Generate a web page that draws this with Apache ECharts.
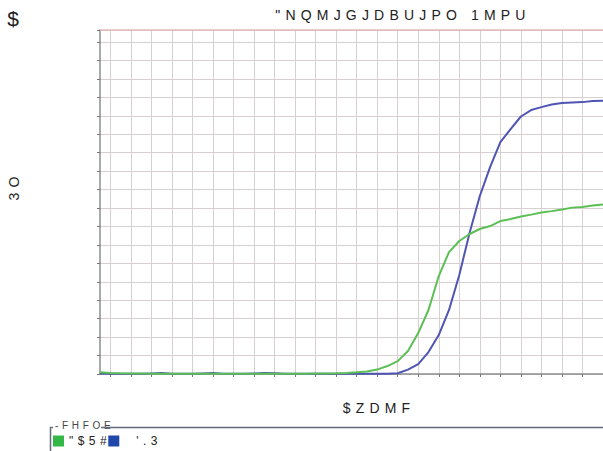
<!DOCTYPE html>
<html>
<head>
<meta charset="utf-8">
<script src="https://cdn.jsdelivr.net/npm/echarts@6/dist/echarts.min.js"></script>
<style>
html, body { margin: 0; padding: 0; background: #fff; }
#main { width: 603px; height: 451px; }
#main text { letter-spacing: 0.37em; }
</style>
</head>
<body>
<div id="main"></div>
<script>
var cycles = [1, 2, 3, 4, 5, 6, 7, 8, 9, 10, 11, 12, 13, 14, 15, 16, 17, 18, 19, 20,
	21, 22, 23, 24, 25, 26, 27, 28, 29, 30, 31, 32, 33, 34, 35, 36, 37, 38, 39, 40,
	41, 42, 43, 44, 45, 46, 47, 48, 49, 50];

// ACTB (green)
var actbRn = [0.009, 0.006, 0.004, 0.003, 0.003, 0.002, 0.002, 0.002, 0.002, 0.002,
	0.002, 0.002, 0.002, 0.002, 0.002, 0.002, 0.002, 0.002, 0.002, 0.002,
	0.002, 0.003, 0.003, 0.004, 0.006, 0.009, 0.014, 0.024, 0.043, 0.070,
	0.125, 0.222, 0.347, 0.531, 0.661, 0.721, 0.759, 0.786, 0.802, 0.829,
	0.840, 0.854, 0.864, 0.875, 0.883, 0.892, 0.902, 0.905, 0.913, 0.919];

// FMR (blue)
var fmrRn = [0.003, 0.002, 0.001, 0.001, 0.001, 0.003, 0.005, 0.002, 0.001, 0.001,
	0.003, 0.005, 0.002, 0.001, 0.001, 0.003, 0.005, 0.004, 0.001, 0.001,
	0.001, 0.001, 0.001, 0.001, 0.001, 0.001, 0.001, 0.001, 0.002, 0.004,
	0.024, 0.054, 0.119, 0.211, 0.347, 0.537, 0.764, 0.965, 1.122, 1.257,
	1.328, 1.396, 1.431, 1.447, 1.461, 1.469, 1.472, 1.474, 1.480, 1.482];

var seriesNames = ['"$5#', "'.3"];

function oddOnly(index) {
	return index % 2 === 1;
}

var myChart = echarts.init(document.getElementById('main'), null, { renderer : 'svg' });

myChart.setOption({
	animation : false,
	textStyle : {
		fontFamily : 'Liberation Sans'
	},
	graphic : [ {
		type : 'text',
		x : 17,
		y : 18,
		style : {
			text : '$',
			font : '21px "Liberation Sans"',
			fill : '#222',
			textAlign : 'center',
			textVerticalAlign : 'middle'
		}
	}, {
		type : 'text',
		x : 403,
		y : 15,
		style : {
			text : '"NQMJGJDBUJPO 1MPU',
			font : '14px "Liberation Sans"',
			fill : '#222',
			textAlign : 'center',
			textVerticalAlign : 'middle'
		}
	}, {
		type : 'text',
		x : 14,
		y : 186,
		rotation : Math.PI / 2,
		style : {
			text : '3O',
			font : '14px "Liberation Sans"',
			fill : '#222',
			textAlign : 'center',
			textVerticalAlign : 'middle'
		}
	}, {
		type : 'text',
		x : 379,
		y : 408,
		style : {
			text : '$ZDMF',
			font : '14px "Liberation Sans"',
			fill : '#222',
			textAlign : 'center',
			textVerticalAlign : 'middle'
		}
	}, {
		type : 'text',
		x : 55,
		y : 425,
		style : {
			text : '-FHFOE',
			font : '10px "Liberation Sans"',
			fill : '#444',
			textAlign : 'left',
			textVerticalAlign : 'middle'
		}
	}, {
		type : 'polyline',
		shape : {
			points : [ [ 53, 427.5 ], [ 50.5, 427.5 ], [ 50.5, 451 ] ]
		},
		style : {
			stroke : '#666a7a',
			lineWidth : 1.5,
			fill : null
		}
	}, {
		type : 'line',
		shape : {
			x1 : 101, y1 : 427.5, x2 : 603, y2 : 427.5
		},
		style : {
			stroke : '#666a7a',
			lineWidth : 1.5
		}
	} ],
	legend : {
		left : 53,
		top : 435,
		padding : 0,
		itemWidth : 11,
		itemHeight : 11,
		itemGap : 15,
		icon : 'rect',
		textStyle : {
			fontSize : 12,
			color : '#222'
		},
		data : [ {
			name : seriesNames[0],
			itemStyle : { color : '#33b848' }
		}, {
			name : seriesNames[1],
			itemStyle : { color : '#1f48aa' },
			textStyle : { padding : [ 0, 0, 0, 12 ] }
		} ]
	},
	grid : {
		left : 100,
		top : 30,
		right : -3,
		bottom : 77
	},
	xAxis : [ {
		type : 'category',
		data : cycles,
		boundaryGap : false,
		axisLine : {
			lineStyle : { color : '#8c8c8c', width : 1.5 }
		},
		axisTick : {
			interval : oddOnly,
			length : 3,
			lineStyle : { color : '#777' }
		},
		axisLabel : { show : false },
		splitLine : {
			show : true,
			interval : oddOnly,
			lineStyle : { color : '#d8d0d0', width : 1 }
		}
	}, {
		type : 'category',
		position : 'top',
		data : cycles,
		boundaryGap : false,
		axisLine : {
			lineStyle : { color : '#e3b9b9', width : 1.5 }
		},
		axisTick : { show : false },
		axisLabel : { show : false },
		splitLine : { show : false }
	} ],
	yAxis : {
		type : 'value',
		min : 0,
		max : 1.865,
		interval : 0.1,
		axisLine : {
			show : true,
			lineStyle : { color : '#8c8c8c', width : 1.5 }
		},
		axisTick : {
			show : true,
			length : 3,
			lineStyle : { color : '#777' }
		},
		axisLabel : { show : false },
		splitLine : {
			lineStyle : { color : '#d8d0d0', width : 1 }
		}
	},
	series : [ {
		name : seriesNames[0],
		type : 'line',
		data : actbRn,
		showSymbol : false,
		z : 3,
		lineStyle : { color : '#5cbf55', width : 2 },
		itemStyle : { color : '#5cbf55' }
	}, {
		name : seriesNames[1],
		type : 'line',
		data : fmrRn,
		showSymbol : false,
		z : 2,
		lineStyle : { color : '#4f55b3', width : 2 },
		itemStyle : { color : '#4f55b3' }
	} ]
});
</script>
</body>
</html>
